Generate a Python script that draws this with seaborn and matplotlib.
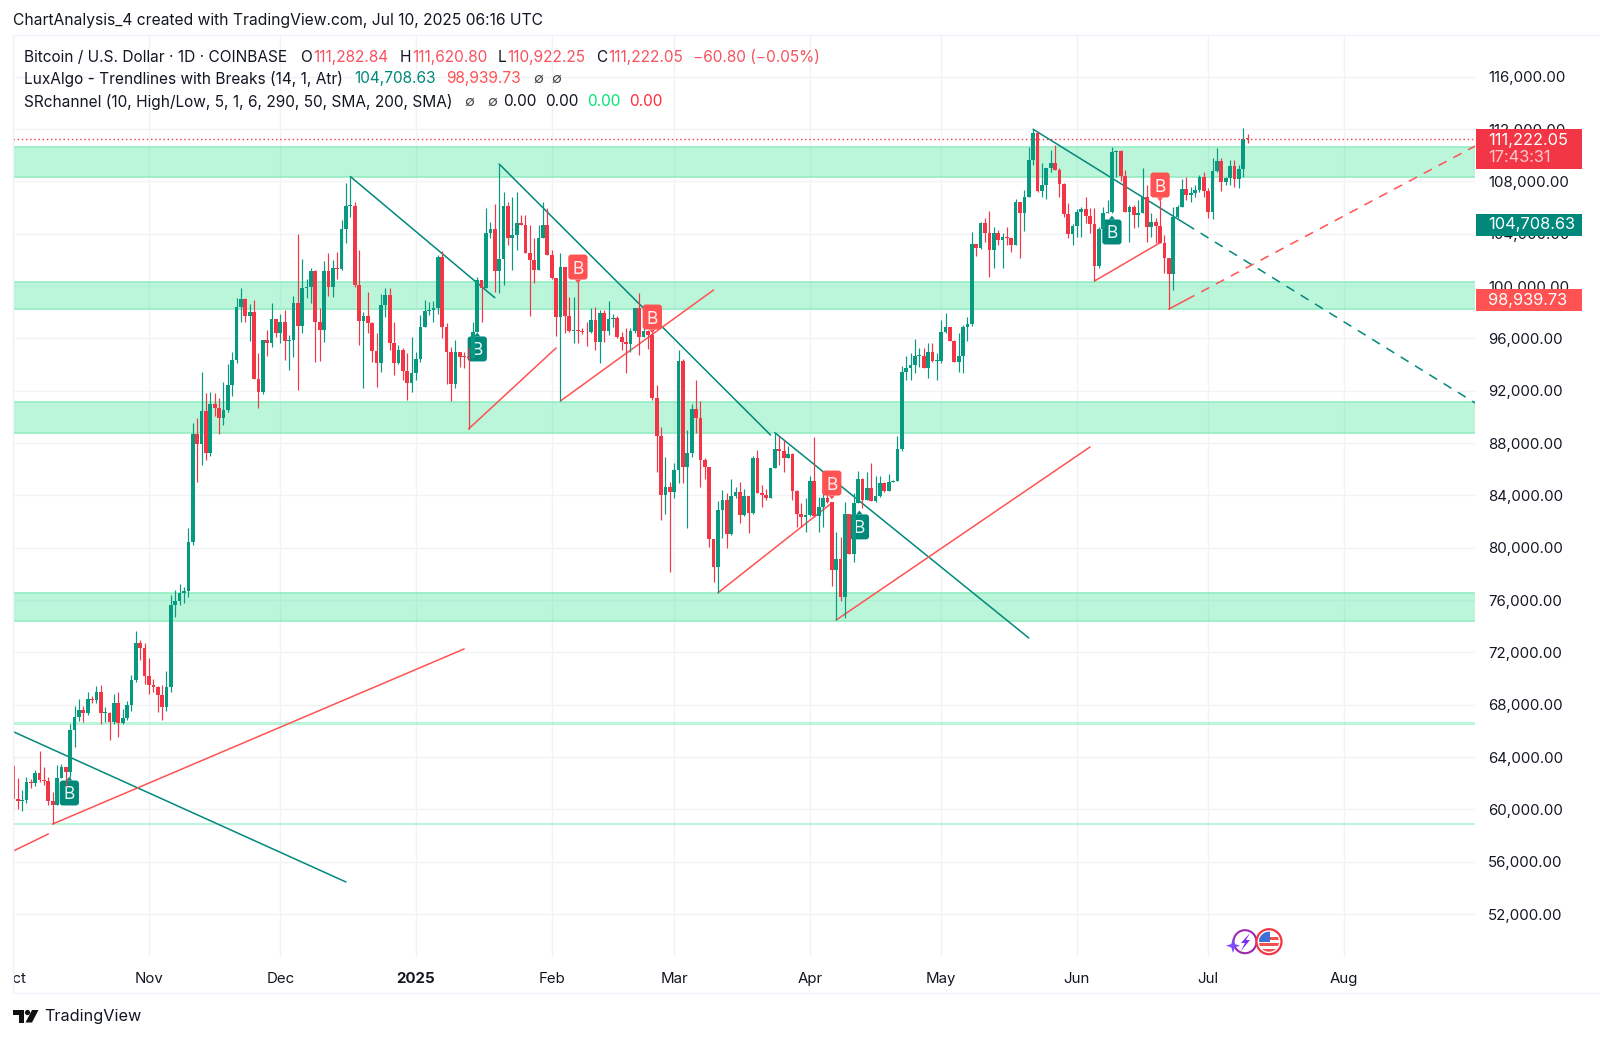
import numpy as np
import pandas as pd
import seaborn as sns
import matplotlib.pyplot as plt
from matplotlib.patches import Circle, FancyBboxPatch, Polygon, Rectangle
from matplotlib.lines import Line2D
from matplotlib.transforms import Bbox, Affine2D

W, H = 1600, 1039
UP = '#089981'
DOWN = '#F23645'
TEAL = '#00897B'
CORAL = '#FF5252'

first_open = 63300
closes = [
    60800, 60650, 60750, 62080, 62050, 62800, 62250, 62150, 60600, 60300, 62400, 63200, 62850, 66050, 67050, 67600,
    67400, 68400, 68350, 69000, 67350, 67350, 66650, 68150, 66600, 67000, 67950, 69900, 72700, 72350, 70200,
    69500, 69350, 68750, 67800, 69350, 75600, 75900, 76550, 76700, 80400, 88700, 87950, 90470, 87250, 90980,
    90650, 89885, 90527, 92400, 94345, 98422, 98982, 97734, 97990, 92893, 91925, 95873, 95620, 97453, 96434,
    97224, 95823, 95873, 98677, 96970, 99823, 99900, 101148, 97275, 96638, 101173, 99950, 101403, 101300, 104360,
    106117, 106150, 100080, 97350, 97700, 97200, 95030, 94100, 98550, 99300, 95650, 94130, 95100, 93530, 92560, 93325,
    94395, 96900, 98090, 98200, 98300, 102243, 96900, 94982, 92480, 94982, 94600, 94560, 94470, 96460, 100460, 99870,
    104080, 104358, 101173, 102065, 106142, 103645, 103900, 104790, 104665, 102500, 101990, 101225, 103700, 104665, 102370,
    100590, 97657, 101430, 97734, 96560, 96612, 96560, 96510, 96460, 97400, 95745, 97910, 96600, 97480,
    97580, 96080, 95745, 95570, 96560, 98300, 96120, 96560, 96280, 91415, 88536, 84026, 84613, 84280,
    85937, 94295, 86140, 87211, 90575, 89887, 86700, 86140, 80637, 78548, 82880, 83644, 81020, 83975, 84281, 82500,
    83975, 82625, 86830, 84150, 84026, 83800, 86065, 87517, 87415, 86880, 87135, 84332, 82550, 82370, 82500,
    85122, 82450, 83130, 83770, 83470, 78300, 79110, 76200, 82574, 79517, 83390, 85224, 83644, 84536, 83593,
    83975, 84920, 84358, 85045, 85120, 87517, 93453, 93700, 93960, 94650, 94650, 93700, 94980, 94268, 94268,
    96510, 96892, 95822, 94217, 94675, 96840, 97095, 103210, 102880, 104790, 104080, 102753, 104080, 103520, 103720, 103645,
    103140, 106450, 105555, 106830, 109630, 111670, 107263, 107720, 108995, 109380, 108870, 107770, 105500, 103975, 104590,
    105680, 105860, 105380, 104714, 101530, 104358, 105555, 105680, 110270, 110320, 108410, 105680, 106065, 105428, 105555,
    106830, 104535, 104868, 104613, 103313, 102167, 100920, 105300, 106065, 107390, 106957, 107135, 107340, 108360, 107260,
    105680, 108820, 109580, 107980, 108230, 109180, 108205, 108920, 111263, 111222.05,
]
highs = [
    64100, 62400, 61500, 62500, 62350, 63000, 64450, 63200, 62500, 61300, 63400, 63450, 63250, 66500, 67900, 68400,
    67900, 69000, 68650, 69400, 69500, 67850, 67450, 68800, 69000, 67700, 68300, 70300, 73600, 72950, 72700,
    71600, 69950, 69400, 69500, 70600, 76400, 76800, 77200, 77000, 81500, 89500, 89950, 93453, 91847, 91925,
    91850, 91415, 92637, 94040, 94950, 99060, 99823, 99060, 98600, 98930, 94900, 95873, 96638, 98677, 97453,
    97861, 98167, 96256, 99237, 103976, 102065, 100511, 101352, 101225, 98294, 101938, 102499, 101989, 102626, 105047,
    107850, 108360, 106448, 102753, 98040, 99518, 97275, 96383, 99365, 99823, 99874, 97275, 95492, 95237, 94855, 96100,
    94950, 97800, 98930, 98750, 98850, 102370, 102680, 97150, 95365, 95870, 94980, 94980, 95360, 97275, 100715, 100460,
    105940, 104920, 106270, 109327, 107200, 106447, 106830, 107160, 105430, 105430, 104665, 103645, 104665, 106400, 105940,
    102750, 100590, 102500, 101430, 99185, 99185, 100330, 96820, 97270, 98345, 98420, 98170, 98170, 98850,
    97900, 97680, 96510, 96770, 96770, 98300, 99490, 97150, 96640, 96380, 92435, 89250, 86957, 85050,
    86500, 95110, 94400, 88990, 90980, 92817, 91237, 86830, 86190, 80637, 83593, 84409, 84154, 85250, 84663, 85045,
    84460, 83975, 87008, 87466, 84790, 84460, 86115, 88790, 88536, 88230, 87770, 87210, 84410, 83440, 83770,
    85500, 88485, 83900, 84663, 84280, 83470, 81224, 80840, 83517, 82574, 84150, 85886, 85300, 85760, 86447,
    85500, 85500, 85050, 85630, 85200, 88536, 93900, 94676, 94850, 95924, 95240, 95240, 95620, 95620, 94850,
    97400, 97910, 96892, 95873, 96383, 97020, 97657, 104154, 103210, 104919, 105173, 105760, 104536, 104282, 104027, 104536,
    103645, 106626, 106447, 107339, 110652, 111977, 111798, 109378, 108995, 110397, 110779, 108995, 107849, 106320, 104750,
    105861, 106014, 106830, 105938, 105988, 104536, 106014, 106575, 110600, 110397, 110397, 108868, 106193, 106193, 106575,
    108995, 107721, 105556, 105173, 106575, 103899, 102167, 106065, 106193, 108155, 108307, 107594, 107721, 108486, 108741,
    107467, 109760, 110575, 109760, 108358, 109632, 109632, 109250, 112100, 111620.80,
]
lows = [
    60000, 60000, 59900, 60450, 61650, 61800, 62100, 61850, 60300, 58900, 60400, 62400, 61800, 62450, 64800, 66750,
    66700, 67200, 68100, 68100, 66550, 66650, 65300, 66500, 65500, 66500, 66800, 67500, 69700, 71450, 69600,
    68800, 69000, 67450, 66800, 67500, 69000, 74700, 75600, 75800, 76200, 80200, 85000, 86300, 86700, 87000,
    90100, 88700, 89400, 90400, 91593, 94140, 97224, 97224, 95800, 92893, 90650, 91747, 94650, 95364, 96130,
    95670, 94345, 93580, 94600, 92050, 96434, 99059, 98728, 94218, 94268, 95746, 99262, 99186, 100536, 101225,
    103263, 105301, 99950, 95492, 92179, 96383, 94167, 92306, 93402, 97606, 95109, 93199, 94039, 92816, 91290, 91925,
    92800, 94200, 96900, 97800, 97270, 97900, 96050, 92480, 91240, 92230, 93830, 93700, 89100, 94400, 96460, 97275,
    99900, 103640, 99570, 99440, 100080, 103135, 101225, 102750, 104665, 102500, 97730, 100255, 101225, 103700, 102370,
    100510, 96180, 91210, 96380, 96510, 95670, 95620, 96300, 95440, 96400, 95110, 94090, 95740, 96260,
    96900, 96000, 95110, 93325, 94980, 96380, 94730, 96130, 95160, 91290, 85810, 82115, 82550, 78166,
    83770, 84970, 84970, 81480, 86900, 88800, 84613, 85224, 80026, 77400, 76560, 80714, 79950, 80970, 83770, 81910,
    82420, 81148, 82575, 84150, 83084, 83640, 83770, 86065, 86320, 85810, 87060, 83645, 81600, 81600, 81220,
    82420, 82370, 81220, 81600, 83390, 77070, 74470, 75950, 74600, 79517, 78930, 83390, 83000, 83640, 83593,
    83520, 83900, 84280, 84358, 85045, 85120, 87400, 92815, 92815, 93325, 93840, 93700, 92940, 94220, 92815,
    94140, 96383, 95822, 94217, 93453, 93375, 95822, 96943, 102294, 102804, 103390, 100715, 101400, 103135, 101350, 103135,
    102625, 103140, 102115, 104200, 106830, 109250, 107212, 106780, 106625, 108740, 108868, 106830, 105300, 103645, 103135,
    103772, 103721, 104791, 104027, 100380, 101351, 104358, 105556, 105556, 108358, 108053, 105683, 103390, 104409, 104536,
    105556, 103390, 103772, 103262, 103262, 100970, 98240, 99695, 105173, 106014, 106575, 106396, 106830, 107212, 106830,
    105224, 105122, 108740, 107263, 107721, 107721, 107594, 107466, 108360, 110922.25,
]

zones = [(108357, 110604), (98245, 100331), (88790, 91159), (74419, 76513)]
thin_zones = [(66460, 66690), (58770, 58990)]

# (start day, start price, end day, end price)
teal_lines = [(0, 65935, 76, 54448), (77, 108370, 110, 99108), (111, 109327, 173, 88614),
              (174, 88790, 232, 73100), (233, 111980, 268, 104717)]
coral_lines = [(0, 56817, 8, 58117), (9, 58880, 103, 72260), (104, 89073, 124, 95263), (125, 91212, 160, 99700),
               (161, 76555, 187, 83416), (188, 74470, 246, 87700), (247, 100380, 262, 103310), (264, 98240, 268, 98950)]
teal_dashed = [(268, 104717, 334, 91060)]
coral_dashed = [(268, 98950, 334, 110700)]

# (day, price) of the break labels
labels_under = [(12.8, 61250), (106, 95190), (193.3, 81590), (251, 104130)]
labels_over = [(129, 101450), (146, 97630), (187, 84940), (262, 107720)]

last_price = 111222.05
trend_up_price = '104,708.63'
trend_down_price = '98,939.73'
month_days = [0, 31, 61, 92, 123, 151, 182, 212, 243, 273, 304]
month_names = ['Oct', 'Nov', 'Dec', '2025', 'Feb', 'Mar', 'Apr', 'May', 'Jun', 'Jul', 'Aug']
price_ticks = list(range(52000, 116001, 4000))

sns.set_theme(style='white')
plt.rcParams['font.family'] = ['Inter', 'DejaVu Sans']

df = pd.DataFrame({'close': closes, 'high': highs, 'low': lows})
df['day'] = df.index
df['open'] = df['close'].shift(1).fillna(first_open)
df['high'] = df[['high', 'open', 'close']].max(axis=1)
df['low'] = df[['low', 'open', 'close']].min(axis=1)
df['up'] = df['close'] >= df['open']

fig = plt.figure(figsize=(W / 100, H / 100), dpi=100, facecolor='white')
left, right, top, bottom = 13, 1475, 35, 957
ax = fig.add_axes([left / W, 1 - bottom / H, (right - left) / W, (bottom - top) / H])
px_per_day = 4.377
px_per_price = 0.013083
ax.set_xlim((left - 13.3) / px_per_day, (right - 13.3) / px_per_day)
ax.set_ylim(116000 - (bottom - 76.7) / px_per_price, 116000 + (76.7 - top) / px_per_price)


def px(x, y):
    return x / W, 1 - y / H


def fig_rect(x0, y0, x1, y1, color, zorder=5):
    fig.add_artist(Rectangle(px(x0, y1), (x1 - x0) / W, (y1 - y0) / H, transform=fig.transFigure,
                             facecolor=color, edgecolor='none', zorder=zorder))


def fig_text(x, y, s, color='#131722', size=11.12, **kw):
    fig.text(*px(x, y), s, color=color, fontsize=size, va='center', zorder=6, **kw)


# grid and axes
ax.set_xticks(month_days)
ax.set_xticklabels(month_names)
ax.set_yticks(price_ticks)
ax.set_yticklabels([f'{p:,.2f}' for p in price_ticks])
ax.yaxis.tick_right()
ax.grid(True, color='#F2F3F6', lw=1.0)
ax.set_axisbelow(True)
ax.tick_params(axis='y', length=0, pad=9.5, labelsize=10.8, labelcolor='#131722')
ax.tick_params(axis='x', length=0, pad=10.5, labelsize=10.8, labelcolor='#131722')
sns.despine(ax=ax, left=True, bottom=True, top=True, right=True)
for lab in ax.get_xticklabels():
    if lab.get_text() == '2025':
        lab.set_fontweight('bold')
first = ax.get_xticklabels()[0]
first.set_clip_on(True)
first.set_clip_box(Bbox([[left, 0], [W, H]]))

# support / resistance zones
for low, high in zones:
    ax.axhspan(low, high, facecolor='#4CE6A0', alpha=0.38, edgecolor='none', zorder=1)
    ax.axhline(low, color='#93EDC2', lw=1.2, zorder=1.1)
    ax.axhline(high, color='#93EDC2', lw=1.2, zorder=1.1)
for low, high in thin_zones:
    ax.axhspan(low, high, facecolor='#4CE6A0', alpha=0.38, edgecolor='none', zorder=1)

# trend lines


def draw_lines(rows, color, **kw):
    parts = []
    for n, (d0, p0, d1, p1) in enumerate(rows):
        parts.append({'line': n, 'day': d0, 'price': p0})
        parts.append({'line': n, 'day': d1, 'price': p1})
    sns.lineplot(data=pd.DataFrame(parts), x='day', y='price', units='line', estimator=None, sort=False,
                 color=color, lw=1.1, legend=False, ax=ax, zorder=2, **kw)


draw_lines(teal_lines, TEAL)
draw_lines(coral_lines, CORAL)
draw_lines(teal_dashed, TEAL, linestyle=(0, (6, 5)))
draw_lines(coral_dashed, CORAL, linestyle=(0, (6, 5)))
ax.set_xlabel('')
ax.set_ylabel('')


def draw_label(day, price, color, zorder, tip):
    w, h = 4.4, 1910
    ax.add_patch(FancyBboxPatch((day - w / 2, price - h / 2), w, h, boxstyle='round,pad=0,rounding_size=0.7',
                                mutation_aspect=h / w * 0.72, facecolor=color, edgecolor='none', zorder=zorder))
    edge = price + tip * h / 2
    ax.add_patch(Polygon([(day - 0.7, edge), (day + 0.7, edge), (day, edge + tip * 300)], facecolor=color,
                         edgecolor='none', zorder=zorder))
    ax.text(day, price, 'B', color='white', fontsize=12.5, ha='center', va='center_baseline', zorder=zorder + 0.01,
            alpha=0.9)


for day, price in labels_under:
    draw_label(day, price, TEAL, 2.5, 1)

# candles
for is_up, color in [(True, UP), (False, DOWN)]:
    part = df[df['up'] == is_up]
    ax.vlines(part['day'], part['low'], part['high'], color=color, lw=0.85, zorder=3)
    body = (part['close'] - part['open']).abs().clip(lower=60)
    ax.bar(part['day'], body, bottom=part[['open', 'close']].min(axis=1), width=0.85, color=color, lw=0, zorder=3)

for day, price in labels_over:
    draw_label(day, price, CORAL, 4, -1)

ax.axhline(last_price, color=DOWN, lw=1.0, linestyle=(0, (1, 2)), zorder=3)

# pane frame
for seg in [((13, 1600), (35, 35)), ((13, 1600), (993, 993)), ((13, 13), (35, 993))]:
    fig.add_artist(Line2D([seg[0][0] / W, seg[0][1] / W], [1 - seg[1][0] / H, 1 - seg[1][1] / H],
                          color='#F0F3FA', lw=1.0, transform=fig.transFigure, zorder=0.5))

# price tags
fig_rect(1476, 129, 1582, 169, DOWN)
fig_text(1488, 140, f'{last_price:,.2f}', color='white', size=11.8)
fig_text(1488, 158, '17:43:31', color='#FBC9CE', size=11.8)
fig_rect(1476, 214, 1582, 236, TEAL)
fig_text(1488, 225, trend_up_price, color='white', size=11.8)
fig_rect(1476, 289, 1582, 311, CORAL)
fig_text(1488, 300, trend_down_price, color='white', size=11.8)

# header
fig_text(13, 21, 'ChartAnalysis_4 created with TradingView.com, Jul 10, 2025 06:16 UTC', size=11.25)
RED = '#F7525F'
fig_text(24, 57.5, 'Bitcoin / U.S. Dollar · 1D · COINBASE')
for x, s, c in [(300, 'O', None), (313, '111,282.84', RED), (400, 'H', None), (412, '111,620.80', RED),
                (498, 'L', None), (507, '110,922.25', RED), (596, 'C', None), (608, '111,222.05', RED),
                (693, '−60.80 (−0.05%)', RED)]:
    fig_text(x, 57.5, s, color=c or '#131722')
fig_text(24, 79, 'LuxAlgo - Trendlines with Breaks (14, 1, Atr)')
fig_text(354, 79, '104,708.63', color=TEAL)
fig_text(446, 79, '98,939.73', color=CORAL)
fig_text(533, 79, '∅', color='#444444', size=10.5)
fig_text(551, 79, '∅', color='#444444', size=10.5)
fig_text(24, 101.5, 'SRchannel (10, High/Low, 5, 1, 6, 290, 50, SMA, 200, SMA)')
fig_text(464, 101.5, '∅', color='#444444', size=10.5)
fig_text(487, 101.5, '∅', color='#444444', size=10.5)
for x, c in [(503, '#131722'), (545, '#131722'), (587, '#00E676'), (629, '#FF2D3D')]:
    fig_text(x, 101.5, '0.00', color=c)

# footer logo
pix = Affine2D().scale(1 / W, -1 / H).translate(0, 1) + fig.transFigure
fig.add_artist(Polygon([(13, 1010), (23.5, 1010), (23.5, 1022.5), (18.5, 1022.5), (18.5, 1015), (13, 1015)],
                       transform=pix, facecolor='#111111', edgecolor='none'))
fig.add_artist(Circle((27.5, 1012.5), 2.6, transform=pix, facecolor='#111111', edgecolor='none'))
fig.add_artist(Polygon([(32, 1010), (38.5, 1010), (32, 1022.5), (25.5, 1022.5)],
                       transform=pix, facecolor='#111111', edgecolor='none'))
fig_text(44, 1017, 'TradingView', color='#131722', size=11.7)

# event icons
fig.add_artist(Circle((1245, 941.7), 11.5, transform=pix, facecolor='white', edgecolor='#9C27B0', lw=1.5, zorder=4))
fig.add_artist(Polygon([(1250, 933), (1241, 943), (1245, 943), (1241, 951), (1250, 940), (1246, 940)],
                       transform=pix, facecolor='#7B2FF7', edgecolor='none', zorder=4.1))
fig.add_artist(Polygon([(1233, 938), (1234.7, 944), (1240, 945.7), (1234.7, 947.5), (1233, 953), (1231.3, 947.5),
                        (1226, 945.7), (1231.3, 944)], transform=pix, facecolor='#7C4DFF', edgecolor='none', zorder=4.2))
flag = Circle((1269, 941.7), 12.5, transform=pix, facecolor='white', edgecolor=DOWN, lw=1.6, zorder=4.3)
fig.add_artist(flag)
clip = Circle((1269, 941.7), 10, transform=pix)
for y0, y1 in [(937, 940), (943, 946), (949, 952)]:
    stripe = Rectangle((1258, y0), 22, y1 - y0, transform=pix, facecolor='#EF5350', edgecolor='none', zorder=4.4)
    fig.add_artist(stripe)
    stripe.set_clip_path(clip)
canton = Rectangle((1259, 931), 11, 11, transform=pix, facecolor='#3F6FD8', edgecolor='none', zorder=4.5)
fig.add_artist(canton)
canton.set_clip_path(clip)

fig.savefig('out.png', dpi=100, facecolor='white')
